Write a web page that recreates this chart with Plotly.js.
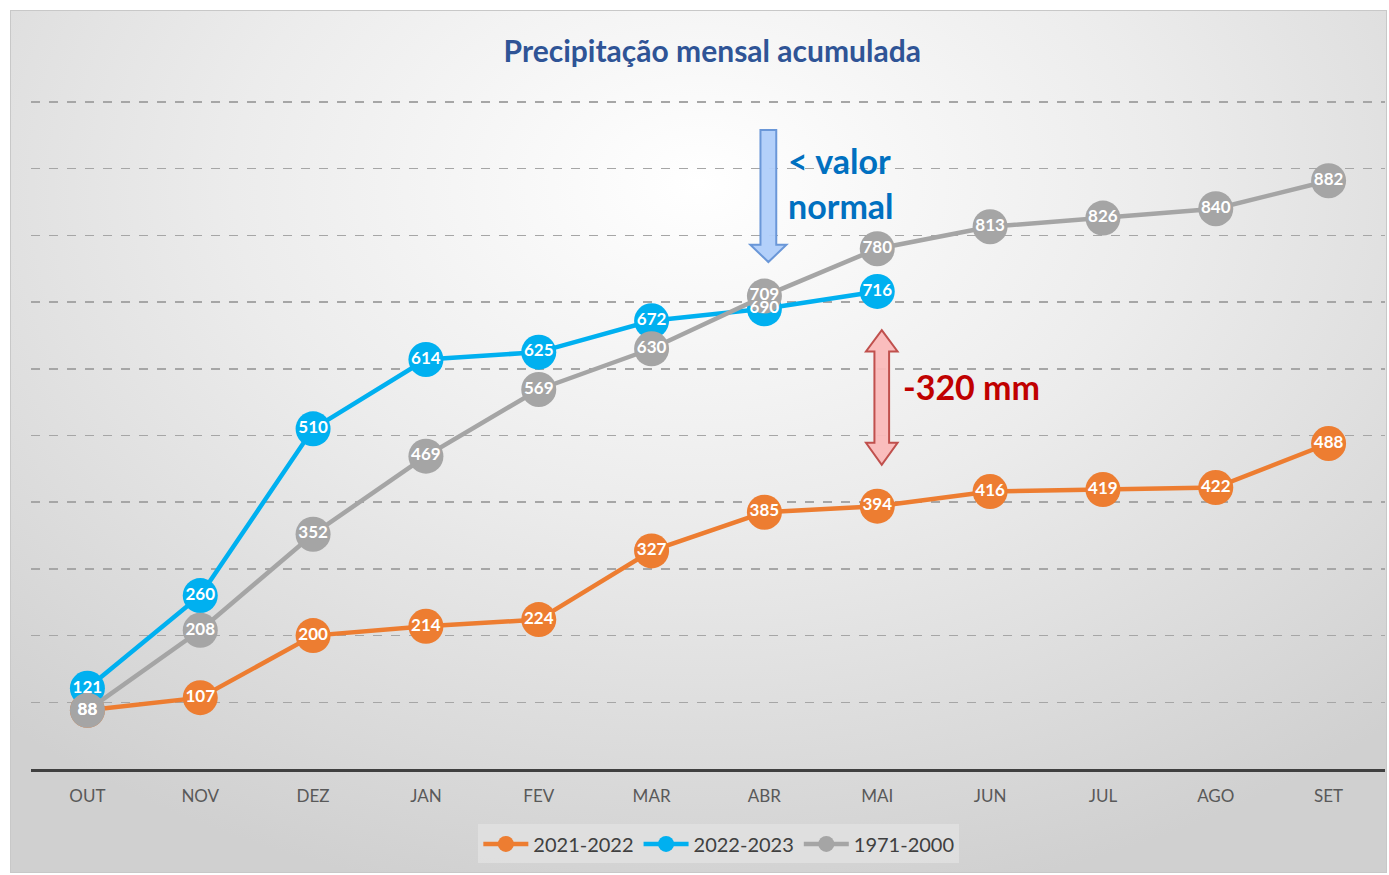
<!DOCTYPE html>
<html>
<head>
<meta charset="utf-8">
<script src="https://cdn.plot.ly/plotly-3.0.1.min.js"></script>
<style>
  body { margin: 0; background: #ffffff; }
  #frame {
    position: absolute; left: 10px; top: 10px; width: 1377px; height: 863px;
    box-sizing: border-box; border: 1px solid #c8c8c8;
    background: radial-gradient(ellipse 75% 85% at 50% 20%, #ffffff 0%, #ececec 45%, #d0d0d0 100%);
  }
  #grafico { width: 1375px; height: 861px; }
</style>
</head>
<body>
<div id="frame"><div id="grafico"></div></div>
<script>
const meses = ["OUT", "NOV", "DEZ", "JAN", "FEV", "MAR", "ABR", "MAI", "JUN", "JUL", "AGO", "SET"];
const idx = meses.map((m, i) => i);

const serie2122 = [88, 107, 200, 214, 224, 327, 385, 394, 416, 419, 422, 488];
const serie2223 = [121, 260, 510, 614, 625, 672, 690, 716];
const normal7100 = [88, 208, 352, 469, 569, 630, 709, 780, 813, 826, 840, 882];

const nomes = ["2021-2022", "2022-2023", "1971-2000"];
const cores = ["#ed7d31", "#00b0f0", "#a5a5a5"];
const series = [serie2122, serie2223, normal7100];

const fonte = "Lato, 'Open Sans', sans-serif";

let traces = [];
series.forEach((s, k) => {
    traces.push({
        x: idx.slice(0, s.length), y: s, type: "scatter", mode: "lines+markers",
        name: nomes[k], line: { color: cores[k], width: 4.5 },
        marker: { color: cores[k], size: 35, line: { width: 0 } },
        hoverinfo: "skip"
    });
});
// rótulos dentro dos marcadores
series.forEach((s, k) => {
    traces.push({
        x: idx.slice(0, s.length), y: s, type: "scatter", mode: "text",
        text: s.map(String), textposition: "middle center",
        textfont: { family: fonte, size: 17, color: "#ffffff", weight: "bold" },
        showlegend: false, hoverinfo: "skip"
    });
});

// setas (coordenadas dos dados)
function setaBaixo(xc, yTopo, yCabeca, yPonta, hw, hh) {
    return `M ${xc - hw} ${yTopo} L ${xc + hw} ${yTopo} L ${xc + hw} ${yCabeca} L ${xc + hh} ${yCabeca} ` +
        `L ${xc} ${yPonta} L ${xc - hh} ${yCabeca} L ${xc - hw} ${yCabeca} Z`;
}
function setaDupla(xc, yTopo, yC1, yC2, yBase, hw, hh) {
    return `M ${xc} ${yTopo} L ${xc + hh} ${yC1} L ${xc + hw} ${yC1} L ${xc + hw} ${yC2} L ${xc + hh} ${yC2} ` +
        `L ${xc} ${yBase} L ${xc - hh} ${yC2} L ${xc - hw} ${yC2} L ${xc - hw} ${yC1} L ${xc - hh} ${yC1} Z`;
}

const layout = {
    width: 1375, height: 861,
    paper_bgcolor: "rgba(0,0,0,0)", plot_bgcolor: "rgba(0,0,0,0)",
    margin: { l: 20, r: 1, t: 89, b: 103 },
    font: { family: fonte },
    title: {
        text: "Precipitação mensal acumulada",
        font: { family: fonte, size: 30, color: "#2f5496", weight: "bold" },
        x: 0.51, xanchor: "center", y: 0.953, yanchor: "middle"
    },
    xaxis: {
        range: [-0.5, 11.5], tickvals: idx, ticktext: meses,
        showgrid: false, zeroline: false, ticks: "",
        showline: true, linecolor: "#404040", linewidth: 3,
        tickfont: { family: fonte, size: 17, color: "#595959" },
        ticklabelstandoff: 10, fixedrange: true
    },
    yaxis: {
        range: [0, 1003], tickvals: [100, 200, 300, 400, 500, 600, 700, 800, 900, 1000],
        showticklabels: false, zeroline: false,
        showgrid: true, gridcolor: "#a6a6a6", gridwidth: 1.5, griddash: "dash",
        fixedrange: true
    },
    legend: {
        orientation: "h", x: 0.508, xanchor: "center", y: -0.112, yanchor: "middle",
        bgcolor: "rgba(224,224,224,0.85)", font: { family: fonte, size: 20, color: "#404040" },
        itemwidth: 45, tracegroupgap: 0
    },
    shapes: [
        {
            type: "path", xref: "x", yref: "y",
            path: setaBaixo(6.035, 958, 786, 760, 0.07, 0.16),
            fillcolor: "rgba(175,205,250,0.95)", line: { color: "#6a97d8", width: 2 }
        },
        {
            type: "path", xref: "x", yref: "y",
            path: setaDupla(7.04, 658, 626, 489, 456, 0.065, 0.14),
            fillcolor: "rgba(250,185,185,0.95)", line: { color: "#c0504d", width: 2 }
        }
    ],
    annotations: [
        { xref: "x", yref: "y", x: 6.19, y: 913, text: "< valor", showarrow: false, xanchor: "left", yanchor: "middle",
          font: { family: fonte, size: 34, color: "#0070c0", weight: "bold" } },
        { xref: "x", yref: "y", x: 6.19, y: 845, text: "normal", showarrow: false, xanchor: "left", yanchor: "middle",
          font: { family: fonte, size: 34, color: "#0070c0", weight: "bold" } },
        { xref: "x", yref: "y", x: 7.21, y: 573, text: "-320 mm", showarrow: false, xanchor: "left", yanchor: "middle",
          font: { family: fonte, size: 34, color: "#c00000", weight: "bold" } }
    ]
};

Plotly.newPlot("grafico", traces, layout, { displayModeBar: false, staticPlot: true });
</script>
</body>
</html>
